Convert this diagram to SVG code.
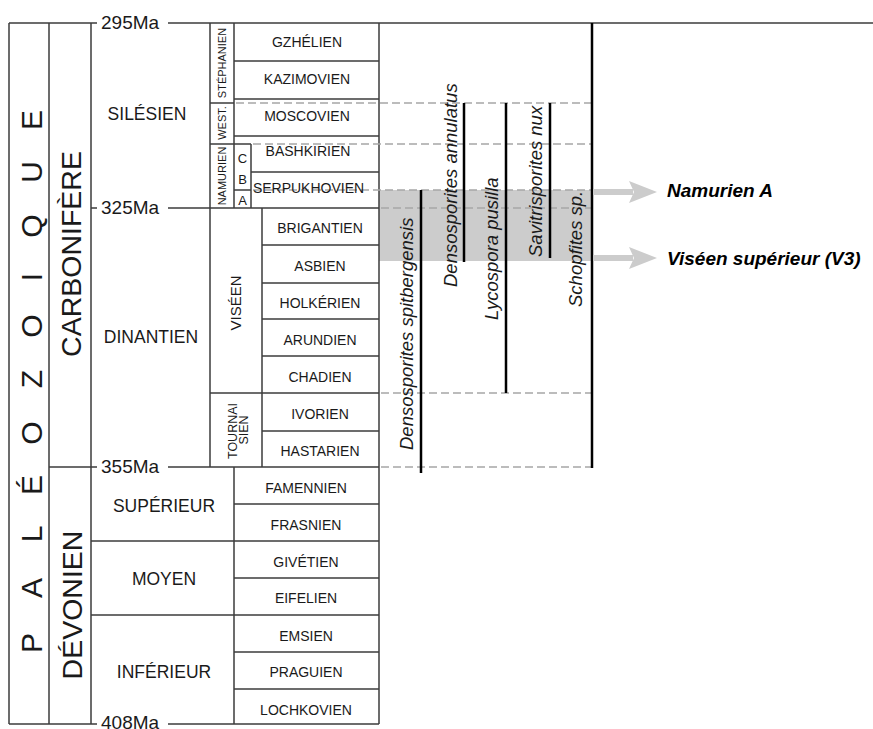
<svg xmlns="http://www.w3.org/2000/svg" width="873" height="729" viewBox="0 0 873 729">
<style>
.ln{stroke:#3c3c3c;stroke-width:1.5;fill:none}
.ds{stroke:#a6a6a6;stroke-width:1.5;stroke-dasharray:8 4;fill:none}
.sp{stroke:#000;stroke-width:2.5;fill:none}
.t{font-family:"Liberation Sans",Arial,sans-serif;fill:#1a1a1a}
.st{font-size:14px;text-anchor:middle}
.ep{font-size:17.5px;text-anchor:middle}
.ma{font-size:19px}
.big{font-size:28.5px;text-anchor:middle}
.pal{font-size:30px;text-anchor:middle}
.sm{font-size:11px;text-anchor:middle}
.spn{font-size:18.5px;font-style:italic}
.res{font-size:19px;font-style:italic;font-weight:bold;fill:#000}
</style>
<rect width="873" height="729" fill="#fff"/>

<g id="band">
<rect x="379" y="190" width="213" height="71" fill="#cccccc"/>
</g>

<g id="connectors">
<path class="ln" d="M9 23H97M168 23H873M91 208H97M168 208H379M49 467H97M168 467H379M9 724H97M168 724H379"/>
<path class="ln" d="M234 61H379M234 99H379M234 136H379M251 172H379M210 103H234M210 144H251M234 190H251"/>
<path class="ln" d="M262 245H379M262 283H379M262 319H379M262 356H379M210 393H379M262 431H379"/>
<path class="ln" d="M234 504H379M234 578H379M234 652H379M234 689H379M91 541H379M91 615H379"/>
<path class="ln" d="M9 23V724M49 23V724M91 23V724M210 23V467M234 23V208M234 467V724M251 144V208M262 208V467M379 23V724"/>
<path class="ds" d="M236 103H592M253 144H592M253 190H592M381 208H592M381 393H592M381 467H592"/>
<path class="sp" d="M421 190V473M464 103V262M506 103V393M550 103V258M592 23V468"/>
<g fill="#cccccc">
<rect x="593" y="189" width="40" height="6"/>
<polygon points="629,181 657,192 629,203 634,192"/>
<rect x="593" y="255" width="40" height="6"/>
<polygon points="629,247 657,258 629,269 634,258"/>
</g>
</g>

<g id="era">
<text class="t pal" transform="rotate(-90)" x="-643 -588 -534 -485 -433 -379 -326 -277 -226 -172 -120" y="42">PALÉOZOIQUE</text>
</g>

<g id="periods">
<text class="t big" transform="translate(81,254) rotate(-90)">CARBONIFÈRE</text>
<text class="t big" transform="translate(82,605) rotate(-90)">DÉVONIEN</text>
</g>

<g id="ages" class="t ma">
<text x="101" y="29">295Ma</text>
<text x="101" y="214">325Ma</text>
<text x="101" y="473">355Ma</text>
<text x="101" y="728.5">408Ma</text>
</g>

<g id="epochs">
<text class="t ep" x="147" y="120">SILÉSIEN</text>
<text class="t ep" x="151" y="343">DINANTIEN</text>
<text class="t ep" x="164" y="512">SUPÉRIEUR</text>
<text class="t ep" x="164" y="585">MOYEN</text>
<text class="t ep" x="164" y="678">INFÉRIEUR</text>
</g>

<g id="subseries">
<text class="t sm" transform="translate(226,63) rotate(-90)">STÉPHANIEN</text>
<text class="t sm" transform="translate(226,123) rotate(-90)">WEST.</text>
<text class="t sm" transform="translate(226,176) rotate(-90)">NAMURIEN</text>
<text class="t" style="font-size:13px;text-anchor:middle" x="242.5" y="163">C</text>
<text class="t" style="font-size:13px;text-anchor:middle" x="242.5" y="184">B</text>
<text class="t" style="font-size:13px;text-anchor:middle" x="242.5" y="205">A</text>
<text class="t" style="font-size:15px;text-anchor:middle" transform="translate(241,303) rotate(-90)">VISÉEN</text>
<text class="t" style="font-size:12.5px;text-anchor:middle" transform="translate(237,431) rotate(-90)">TOURNAI</text>
<text class="t" style="font-size:12.5px;text-anchor:middle" transform="translate(248,430) rotate(-90)">SIEN</text>
</g>

<g id="stages" class="t st">
<text x="307" y="47">GZHÉLIEN</text>
<text x="307" y="84">KAZIMOVIEN</text>
<text x="307" y="121">MOSCOVIEN</text>
<text x="308" y="156">BASHKIRIEN</text>
<text x="308.5" y="193">SERPUKHOVIEN</text>
<text x="320" y="233">BRIGANTIEN</text>
<text x="320" y="271">ASBIEN</text>
<text x="320" y="308">HOLKÉRIEN</text>
<text x="320" y="345">ARUNDIEN</text>
<text x="320" y="382">CHADIEN</text>
<text x="320" y="419">IVORIEN</text>
<text x="320" y="456">HASTARIEN</text>
<text x="306" y="493">FAMENNIEN</text>
<text x="306" y="530">FRASNIEN</text>
<text x="306" y="567">GIVÉTIEN</text>
<text x="306" y="603">EIFELIEN</text>
<text x="306" y="641">EMSIEN</text>
<text x="306" y="677">PRAGUIEN</text>
<text x="306" y="715">LOCHKOVIEN</text>
</g>

<g id="species" class="t spn">
<text transform="translate(413,450) rotate(-90)">Densosporites spitbergensis</text>
<text transform="translate(457,287) rotate(-90)">Densosporites annulatus</text>
<text transform="translate(498,320) rotate(-90)">Lycospora pusilla</text>
<text transform="translate(542,257) rotate(-90)">Savitrisporites nux</text>
<text transform="translate(582,307) rotate(-90)">Schopfites sp.</text>
</g>

<g id="results" class="t res">
<text x="667" y="197">Namurien A</text>
<text x="667" y="265">Viséen supérieur (V3)</text>
</g>
</svg>
